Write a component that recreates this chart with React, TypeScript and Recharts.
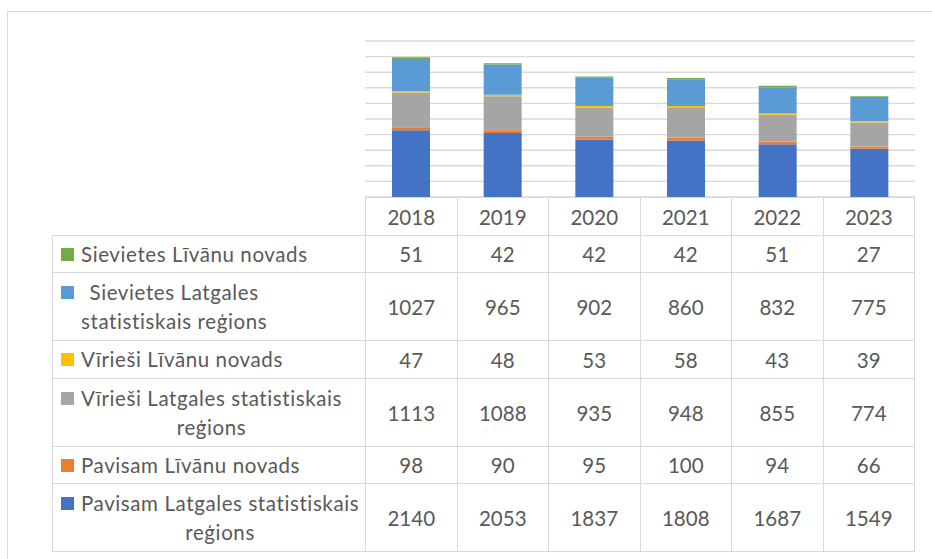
import { BarChart, Bar, XAxis, YAxis, CartesianGrid } from "recharts";

// years shown in the data table header
const YEARS = ["2018", "2019", "2020", "2021", "2022", "2023"];

// series values
const PAVISAM_LATGALE = [2140, 2053, 1837, 1808, 1687, 1549];
const PAVISAM_LIVANI = [98, 90, 95, 100, 94, 66];
const VIRIESI_LATGALE = [1113, 1088, 935, 948, 855, 774];
const VIRIESI_LIVANI = [47, 48, 53, 58, 43, 39];
const SIEVIETES_LATGALE = [1027, 965, 902, 860, 832, 775];
const SIEVIETES_LIVANI = [51, 42, 42, 42, 51, 27];

const Y_TICKS = [0, 500, 1000, 1500, 2000, 2500, 3000, 3500, 4000, 4500, 5000];

// stacking order, bottom to top
const SERIES = [
  { key: "pavLat", label: "Pavisam Latgales statistiskais\nreģions", color: "#4472C4", values: PAVISAM_LATGALE },
  { key: "pavLiv", label: "Pavisam Līvānu novads", color: "#ED7D31", values: PAVISAM_LIVANI },
  { key: "virLat", label: "Vīrieši Latgales statistiskais\nreģions", color: "#A5A5A5", values: VIRIESI_LATGALE },
  { key: "virLiv", label: "Vīrieši Līvānu novads", color: "#FFC000", values: VIRIESI_LIVANI },
  { key: "sieLat", label: "Sievietes Latgales\nstatistiskais reģions", color: "#5B9BD5", values: SIEVIETES_LATGALE },
  { key: "sieLiv", label: "Sievietes Līvānu novads", color: "#70AD47", values: SIEVIETES_LIVANI },
];

const data = YEARS.map((year, i) => {
  const row: Record<string, string | number> = { year };
  SERIES.forEach((s) => (row[s.key] = s.values[i]));
  return row;
});

const FONT = "Lato, Carlito, Calibri, sans-serif";
const TEXT = "#595959";
const LINE = "1.5px solid #d9d9d9";
const ROW_H = [37, 68, 38, 68, 37, 68]; // table rows, top to bottom

function DataTable() {
  const rows = [...SERIES].reverse();
  const cell = { border: LINE, padding: 0, textAlign: "center" as const, color: TEXT };
  return (
    <table
      style={{
        position: "absolute",
        left: 52,
        top: 197,
        width: 863,
        borderCollapse: "collapse",
        tableLayout: "fixed",
        fontFamily: FONT,
        fontSize: 20.5,
      }}
    >
      <colgroup>
        <col style={{ width: 313 }} />
        {YEARS.map((y) => (
          <col key={y} />
        ))}
      </colgroup>
      <tbody>
        <tr style={{ height: 38 }}>
          <td style={{ border: "none", padding: 0 }} />
          {YEARS.map((y) => (
            <td key={y} style={cell}>
              {y}
            </td>
          ))}
        </tr>
        {rows.map((s, r) => (
          <tr key={s.key} style={{ height: ROW_H[r] }}>
            <td style={{ ...cell, textAlign: "left" }}>
              <div style={{ display: "flex", alignItems: "flex-start", paddingLeft: 8 }}>
                <span
                  style={{
                    width: 13,
                    height: 13,
                    marginTop: 8,
                    marginRight: 7,
                    flex: "none",
                    background: s.color,
                  }}
                />
                <span
                  style={{
                    display: "inline-block",
                    whiteSpace: "pre",
                    textAlign: "center",
                    lineHeight: "29px",
                    letterSpacing: 0.6,
                  }}
                >
                  {s.label}
                </span>
              </div>
            </td>
            {s.values.map((v, i) => (
              <td key={i} style={cell}>
                {v}
              </td>
            ))}
          </tr>
        ))}
      </tbody>
    </table>
  );
}

export default function App() {
  return (
    <div
      style={{
        position: "absolute",
        left: 0,
        top: 0,
        width: 932,
        height: 559,
        background: "#fff",
        overflow: "hidden",
      }}
    >
      <div
        style={{
          position: "absolute",
          left: 7,
          top: 11,
          width: 940,
          height: 560,
          borderLeft: LINE,
          borderTop: LINE,
        }}
      />
      <div style={{ position: "absolute", left: 0, top: 0 }}>
        <BarChart
          width={932}
          height={210}
          data={data}
          barSize={38}
          margin={{ top: 41, right: 17, bottom: 13, left: 365 }}
        >
          <CartesianGrid vertical={false} stroke="#d9d9d9" strokeWidth={1.4} />
          <XAxis dataKey="year" hide />
          <YAxis hide domain={[0, 5000]} ticks={Y_TICKS} interval={0} />
          {SERIES.map((s) => (
            <Bar
              key={s.key}
              dataKey={s.key}
              stackId="a"
              fill={s.color}
              isAnimationActive={false}
            />
          ))}
        </BarChart>
      </div>
      <DataTable />
    </div>
  );
}
